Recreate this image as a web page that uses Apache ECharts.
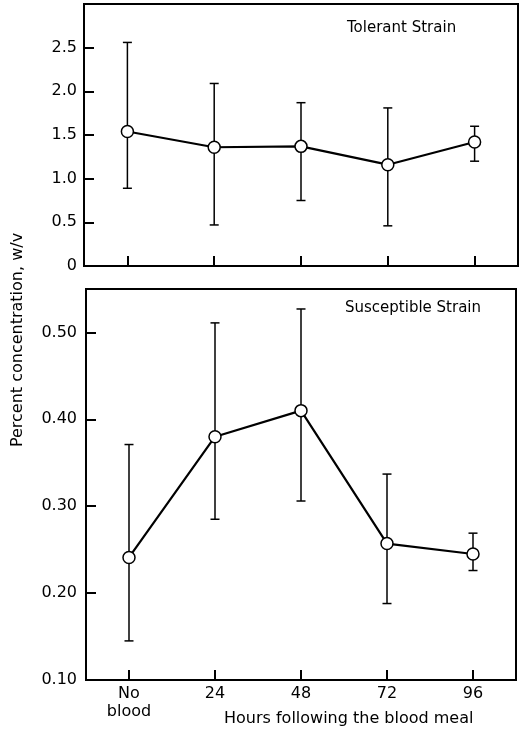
<!DOCTYPE html>
<html><head><meta charset="utf-8">
<script src="https://cdn.jsdelivr.net/npm/echarts@6/dist/echarts.min.js"></script>
<style>html,body{margin:0;padding:0;background:#fff}#c{width:527px;height:731px}</style>
</head><body><div id="c"></div>
<script>
const categories = ['No\nblood', '24', '48', '72', '96'];
const tolerantMean = [1.54, 1.36, 1.37, 1.16, 1.42];
const tolerantLow  = [0.89, 0.47, 0.75, 0.46, 1.20];
const tolerantHigh = [2.56, 2.09, 1.87, 1.81, 1.60];
const suscMean = [0.241, 0.380, 0.410, 0.257, 0.245];
const suscLow  = [0.145, 0.285, 0.306, 0.188, 0.226];
const suscHigh = [0.371, 0.511, 0.527, 0.337, 0.269];
const tolerantTicks = [0, 0.5, 1.0, 1.5, 2.0, 2.5];
const suscTicks = [0.10, 0.20, 0.30, 0.40, 0.50];

const FONT = 'DejaVu Sans, Liberation Sans, Arial, sans-serif';
const chart = echarts.init(document.getElementById('c'), null, {renderer: 'canvas'});

function errData(low, high) { return low.map((l, i) => [i, l, high[i]]); }
function renderErr(params, api) {
  const x = api.value(0);
  const lo = api.coord([x, api.value(1)]);
  const hi = api.coord([x, api.value(2)]);
  const cap = 4.5;
  const st = {stroke: '#000', lineWidth: 1.5};
  return {type: 'group', children: [
    {type: 'line', shape: {x1: lo[0], y1: lo[1], x2: hi[0], y2: hi[1]}, style: st},
    {type: 'line', shape: {x1: lo[0]-cap, y1: lo[1], x2: lo[0]+cap, y2: lo[1]}, style: st},
    {type: 'line', shape: {x1: hi[0]-cap, y1: hi[1], x2: hi[0]+cap, y2: hi[1]}, style: st}
  ]};
}
const tickStyle = {show: true, inside: true, length: 10, alignWithLabel: true, lineStyle: {color: '#000', width: 2}};
const yTick = {show: true, inside: true, length: 10, lineStyle: {color: '#000', width: 2}};
const axisLine = {show: true, lineStyle: {color: '#000', width: 2}};

chart.setOption({
  animation: false,
  backgroundColor: '#fff',
  title: [
    {text: 'Tolerant Strain', left: 342, top: 16, textStyle: {fontFamily: FONT, fontSize: 15, fontWeight: 'normal', color: '#000'}},
    {text: 'Susceptible Strain', left: 340, top: 296, textStyle: {fontFamily: FONT, fontSize: 15, fontWeight: 'normal', color: '#000'}}
  ],
  grid: [
    {left: 84, right: 9, top: 4, height: 262, show: true, borderColor: '#000', borderWidth: 2, backgroundColor: 'transparent'},
    {left: 86, right: 11, top: 289, height: 391, show: true, borderColor: '#000', borderWidth: 2, backgroundColor: 'transparent'}
  ],
  xAxis: [
    {type: 'category', gridIndex: 0, data: categories, boundaryGap: true, axisLine: axisLine, axisTick: tickStyle, axisLabel: {show: false}, splitLine: {show: false}},
    {type: 'category', gridIndex: 1, data: categories, boundaryGap: true, axisLine: axisLine, axisTick: tickStyle,
     axisLabel: {show: true, margin: 5, fontFamily: FONT, fontSize: 16, lineHeight: 18, color: '#000'}, splitLine: {show: false}}
  ],
  yAxis: [
    {type: 'value', gridIndex: 0, min: 0, max: 3, interval: 0.5, axisLine: axisLine, axisTick: yTick, splitLine: {show: false},
     axisLabel: {margin: 7, fontFamily: FONT, fontSize: 16, color: '#000',
       formatter: v => { const t = tolerantTicks.find(k => Math.abs(k - v) < 1e-6); return t === undefined ? '' : (t === 0 ? '0' : t.toFixed(1)); }}},
    {type: 'value', gridIndex: 1, min: 0.1, max: 0.55, interval: 0.1, axisLine: axisLine, axisTick: yTick, splitLine: {show: false},
     axisLabel: {margin: 9, fontFamily: FONT, fontSize: 16, color: '#000', showMaxLabel: false,
       formatter: v => { const t = suscTicks.find(k => Math.abs(k - v) < 1e-6); return t === undefined ? '' : t.toFixed(2); }}}
  ],
  graphic: [
    {type: 'text', left: 224, top: 711, style: {text: 'Hours following the blood meal', font: '16px ' + FONT, fill: '#000'}},
    {type: 'text', x: 18, y: 340, rotation: Math.PI / 2, style: {text: 'Percent concentration, w/v', font: '16px ' + FONT, fill: '#000', align: 'center', verticalAlign: 'middle'}}
  ],
  series: [
    {type: 'custom', xAxisIndex: 0, yAxisIndex: 0, data: errData(tolerantLow, tolerantHigh), renderItem: renderErr, z: 2},
    {type: 'line', xAxisIndex: 0, yAxisIndex: 0, data: tolerantMean, symbol: 'circle', symbolSize: 12, z: 3,
     lineStyle: {color: '#000', width: 2.2}, itemStyle: {color: '#fff', borderColor: '#000', borderWidth: 1.5}},
    {type: 'custom', xAxisIndex: 1, yAxisIndex: 1, data: errData(suscLow, suscHigh), renderItem: renderErr, z: 2},
    {type: 'line', xAxisIndex: 1, yAxisIndex: 1, data: suscMean, symbol: 'circle', symbolSize: 12, z: 3,
     lineStyle: {color: '#000', width: 2.2}, itemStyle: {color: '#fff', borderColor: '#000', borderWidth: 1.5}}
  ]
});
</script></body></html>
